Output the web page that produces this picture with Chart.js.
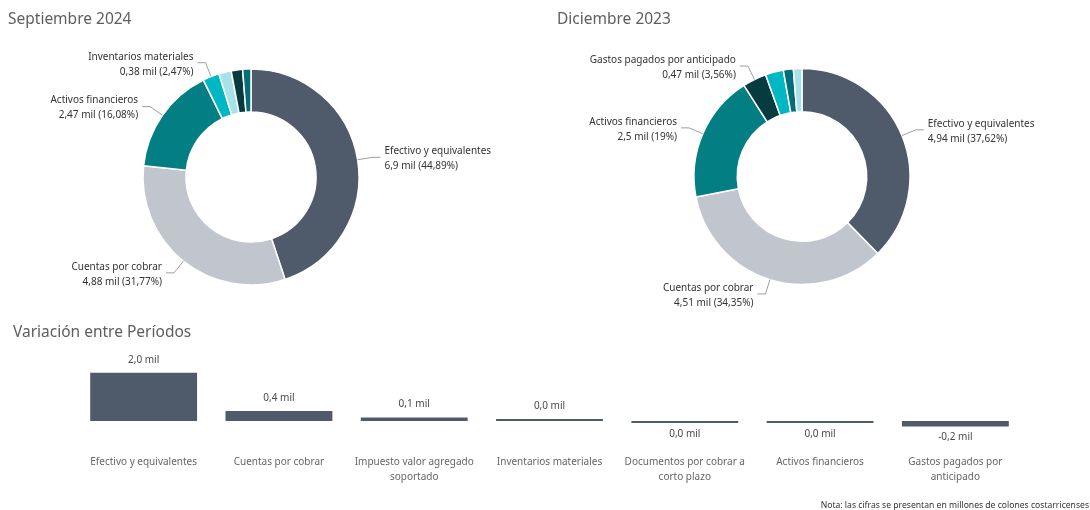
<!DOCTYPE html>
<html><head><meta charset="utf-8">
<script src="https://cdn.jsdelivr.net/npm/chart.js@4"></script>
<style>
body{margin:0;width:1090px;height:510px;background:#fff;position:relative;overflow:hidden;font-family:"Noto Sans",sans-serif;}
canvas{position:absolute;}
.t{position:absolute;font-size:15.5px;color:#605e5c;white-space:nowrap;line-height:20px;}
#note{position:absolute;right:1px;top:499px;font-size:8.6px;color:#333;white-space:nowrap;line-height:12px;}
</style></head><body>
<canvas id="c1" width="545" height="320" style="left:0;top:0"></canvas>
<canvas id="c2" width="545" height="320" style="left:545px;top:0"></canvas>
<canvas id="c3" width="1090" height="170" style="left:0;top:330px"></canvas>
<div class="t" style="left:8px;top:8px">Septiembre 2024</div>
<div class="t" style="left:557px;top:8px">Diciembre 2023</div>
<div class="t" style="left:13px;top:321px">Variación entre Períodos</div>
<div id="note">Nota: las cifras se presentan en millones de colones costarricenses</div>
<script>
// Septiembre 2024 (mil)
const labelsSep = ["Efectivo y equivalentes","Cuentas por cobrar","Activos financieros","Inventarios materiales","Impuesto valor agregado soportado","Gastos pagados por anticipado","Documentos por cobrar a corto plazo"];
const valuesSep = [6.896, 4.880, 2.470, 0.3795, 0.285, 0.262, 0.1895];
const shownSep = ["Efectivo y equivalentes","Cuentas por cobrar","Activos financieros","Inventarios materiales"];
// Diciembre 2023 (mil)
const labelsDic = ["Efectivo y equivalentes","Cuentas por cobrar","Activos financieros","Gastos pagados por anticipado","Inventarios materiales","Documentos por cobrar a corto plazo","Impuesto valor agregado soportado"];
const valuesDic = [4.9414, 4.5119, 2.4957, 0.4676, 0.355, 0.196, 0.1674];
const shownDic = ["Efectivo y equivalentes","Cuentas por cobrar","Activos financieros","Gastos pagados por anticipado"];
// Variación entre períodos (mil)
const categoriasVar = [["Efectivo y equivalentes"],["Cuentas por cobrar"],["Impuesto valor agregado","soportado"],["Inventarios materiales"],["Documentos por cobrar a","corto plazo"],["Activos financieros"],["Gastos pagados por","anticipado"]];
const variacion = [1.96, 0.41, 0.14, 0.03, -0.01, -0.03, -0.22];

const colorMap = {
  "Efectivo y equivalentes":"#4f5b6b",
  "Cuentas por cobrar":"#c1c6ce",
  "Activos financieros":"#037f84",
  "Inventarios materiales":"#02b7c4",
  "Impuesto valor agregado soportado":"#a7e2e8",
  "Gastos pagados por anticipado":"#063b40",
  "Documentos por cobrar a corto plazo":"#026e77"
};
const FONT = '"Noto Sans", sans-serif';

function fmt(v){ return (Math.round(v*100)/100).toString().replace('.',','); }

const donutLabels = {
  id:'donutLabels',
  afterDatasetsDraw(chart, args, opts){
    const ctx = chart.ctx, meta = chart.getDatasetMeta(0), data = chart.data.datasets[0].data;
    const total = data.reduce((a,b)=>a+b,0);
    ctx.save();
    meta.data.forEach((arc,i)=>{
      const name = chart.data.labels[i];
      if(!opts.show.includes(name)) return;
      const p = arc.getProps(['x','y','startAngle','endAngle','outerRadius'], true);
      const mid = (p.startAngle+p.endAngle)/2;
      const c = Math.cos(mid), s = Math.sin(mid);
      const x0 = p.x + c*p.outerRadius, y0 = p.y + s*p.outerRadius;
      const x1 = p.x + c*(p.outerRadius+15), y1 = p.y + s*(p.outerRadius+15);
      const dir = c >= 0 ? 1 : -1;
      const x2 = x1 + dir*8;
      ctx.strokeStyle = '#9e9e9e'; ctx.lineWidth = 1;
      ctx.beginPath(); ctx.moveTo(x0,y0); ctx.lineTo(x1,y1); ctx.lineTo(x2,y1); ctx.stroke();
      ctx.fillStyle = '#333333';
      ctx.font = '10px ' + FONT;
      ctx.textAlign = dir>0 ? 'left' : 'right';
      ctx.textBaseline = 'middle';
      const tx = x2 + dir*4;
      ctx.fillText(name, tx, y1-6);
      ctx.fillText(fmt(data[i]) + ' mil (' + fmt(data[i]/total*100) + '%)', tx, y1+9);
    });
    ctx.restore();
  }
};

function donut(id, labels, values, shown, pad){
  new Chart(document.getElementById(id), {
    type:'doughnut',
    data:{labels:labels, datasets:[{data:values, backgroundColor:labels.map(l=>colorMap[l]), borderColor:'#ffffff', borderWidth:1.5}]},
    options:{
      responsive:false, animation:false, radius:108, cutout:64,
      layout:{padding:pad},
      plugins:{legend:{display:false}, tooltip:{enabled:false}, donutLabels:{show:shown}}
    },
    plugins:[donutLabels]
  });
}
donut('c1', labelsSep, valuesSep, shownSep, {left:100,right:143,top:70,bottom:36});
donut('c2', labelsDic, valuesDic, shownDic, {left:100,right:131,top:69,bottom:36});

const barLabels = {
  id:'barLabels',
  afterDatasetsDraw(chart){
    const ctx = chart.ctx, meta = chart.getDatasetMeta(0), data = chart.data.datasets[0].data;
    ctx.save();
    ctx.font = '10px ' + FONT; ctx.fillStyle = '#4a4a4a'; ctx.textAlign = 'center'; ctx.textBaseline = 'middle';
    meta.data.forEach((bar,i)=>{
      const v = data[i];
      let txt = (Math.round(Math.abs(v)*10)/10).toFixed(1).replace('.',',');
      if (v < 0 && Math.round(Math.abs(v)*10) > 0) txt = '-' + txt;
      txt += ' mil';
      const y = v >= 0 ? Math.min(bar.y, bar.base) - 13 : Math.max(bar.y, bar.base) + 11;
      ctx.fillText(txt, bar.x, y);
    });
    ctx.restore();
  }
};

new Chart(document.getElementById('c3'), {
  type:'bar',
  data:{labels:categoriasVar, datasets:[{data:variacion, backgroundColor:'#4f5b6b', categoryPercentage:1, barPercentage:0.79, minBarLength:2}]},
  options:{
    responsive:false, animation:false,
    layout:{padding:{left:76,right:67,top:27,bottom:15}},
    plugins:{legend:{display:false}, tooltip:{enabled:false}},
    scales:{
      x:{grid:{display:false, drawTicks:false}, border:{display:false},
         ticks:{padding:20, color:'#666666', maxRotation:0, autoSkip:false, font:{family:FONT, size:10, lineHeight:1.5}},
         afterFit(s){ s.height = 50; }},
      y:{display:false, min:-0.57, max:2.6}
    }
  },
  plugins:[barLabels]
});
</script>
</body></html>
